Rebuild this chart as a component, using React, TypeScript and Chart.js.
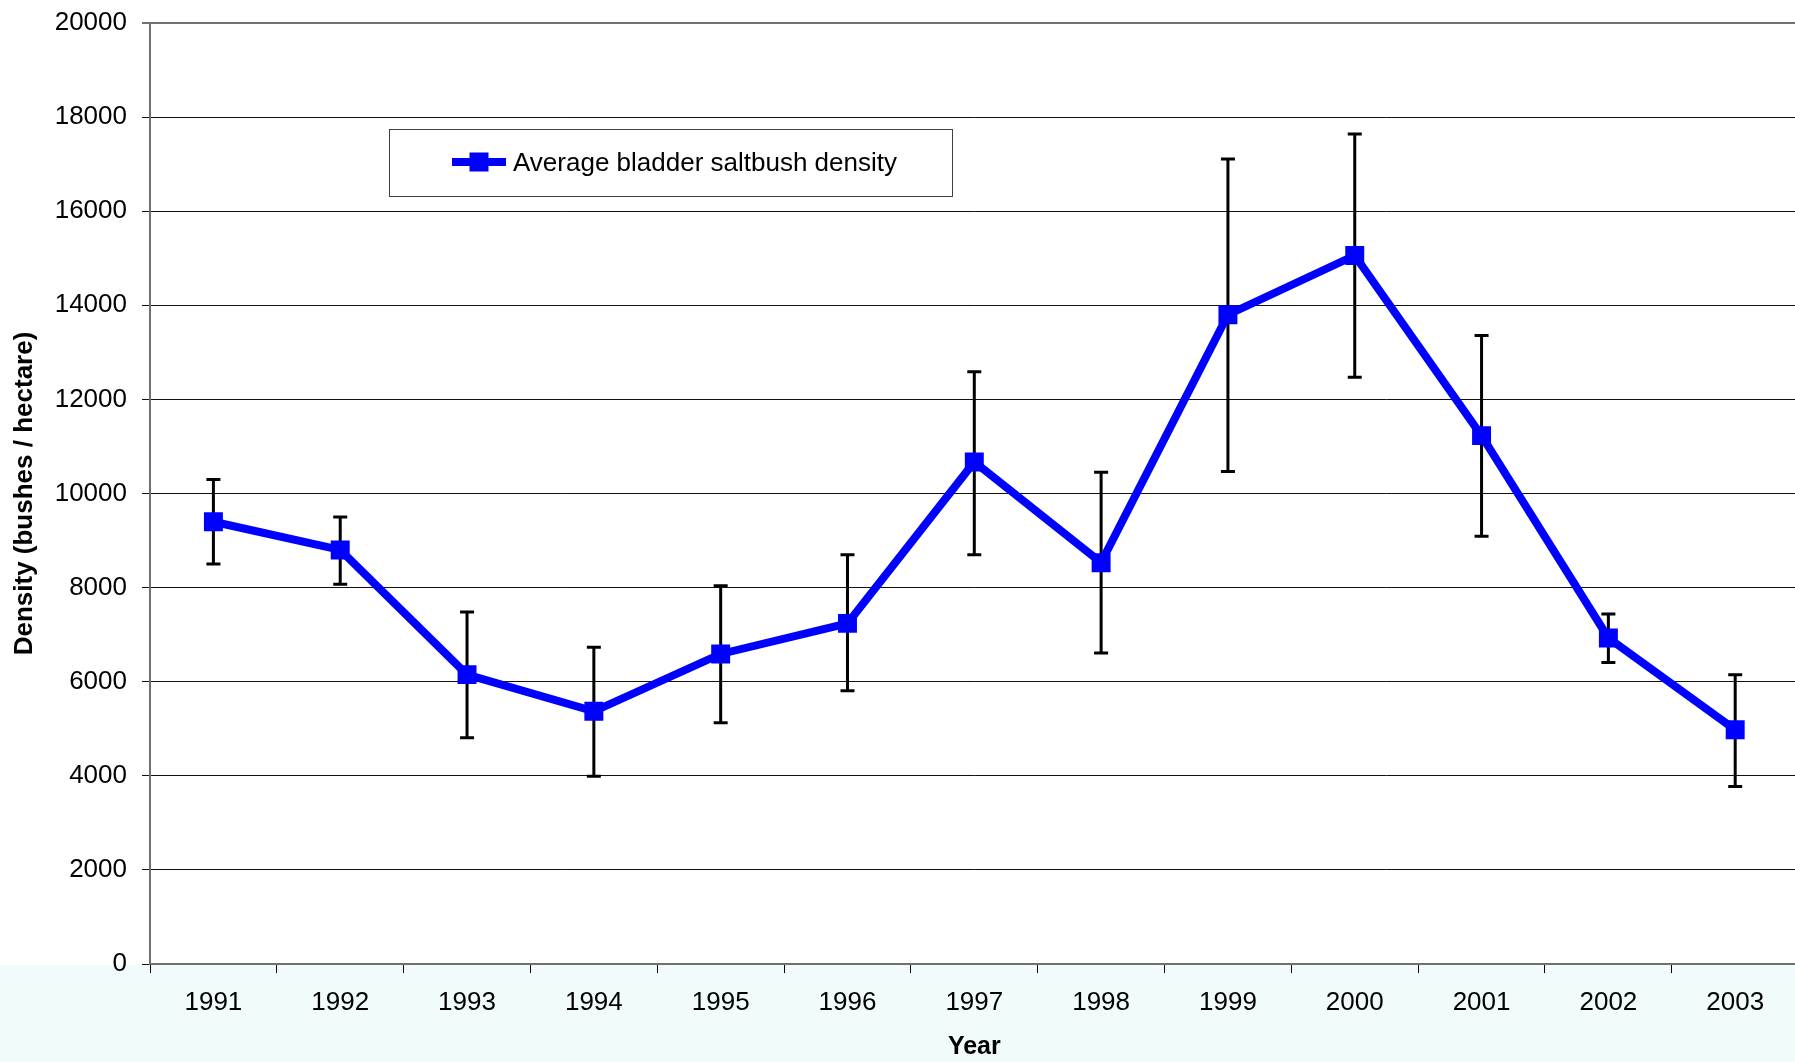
import React, { useEffect, useRef } from "react";
import { Chart, registerables } from "chart.js";

Chart.register(...registerables);

const years = ["1991", "1992", "1993", "1994", "1995", "1996", "1997", "1998", "1999", "2000", "2001", "2002", "2003"];
const density = [9400, 8800, 6150, 5370, 6590, 7240, 10670, 8530, 13800, 15060, 11230, 6930, 4980];
const errorUpper = [10300, 9500, 7480, 6730, 8040, 8700, 12590, 10450, 17110, 17640, 13360, 7440, 6150];
const errorLower = [8500, 8070, 4810, 3990, 5130, 5810, 8700, 6610, 10470, 12470, 9090, 6410, 3770];
const yTicks = [0, 2000, 4000, 6000, 8000, 10000, 12000, 14000, 16000, 18000, 20000];
const seriesLabel = "Average bladder saltbush density";

const FONT = "Arial, 'Liberation Sans', sans-serif";

const bgPlugin = {
  id: "bgPlugin",
  beforeDraw(chart: any) {
    const { ctx, width, height, chartArea } = chart;
    ctx.save();
    ctx.fillStyle = "#ffffff";
    ctx.fillRect(0, 0, width, height);
    ctx.fillStyle = "#f1fbfc";
    ctx.fillRect(0, chartArea.bottom + 1, width, height - chartArea.bottom);
    ctx.restore();
  },
};

const errorBarPlugin = {
  id: "errorBars",
  beforeDatasetsDraw(chart: any) {
    const { ctx, scales } = chart;
    const xs = scales.x;
    const ys = scales.y;
    ctx.save();
    ctx.strokeStyle = "#000000";
    ctx.lineWidth = 3;
    const cap = 7;
    for (let i = 0; i < years.length; i++) {
      const x = xs.getPixelForValue(i);
      const yt = ys.getPixelForValue(errorUpper[i]);
      const yb = ys.getPixelForValue(errorLower[i]);
      ctx.beginPath();
      ctx.moveTo(x, yt);
      ctx.lineTo(x, yb);
      ctx.moveTo(x - cap, yt);
      ctx.lineTo(x + cap, yt);
      ctx.moveTo(x - cap, yb);
      ctx.lineTo(x + cap, yb);
      ctx.stroke();
    }
    ctx.restore();
  },
};

const legendPlugin = {
  id: "boxLegend",
  afterDraw(chart: any) {
    const { ctx } = chart;
    const bx = 389.5, by = 129.5, bw = 563, bh = 67;
    ctx.save();
    ctx.fillStyle = "#ffffff";
    ctx.fillRect(bx, by, bw, bh);
    ctx.strokeStyle = "#404040";
    ctx.lineWidth = 1;
    ctx.strokeRect(bx, by, bw, bh);
    const cy = 162;
    ctx.strokeStyle = "#0000ff";
    ctx.lineWidth = 8;
    ctx.beginPath();
    ctx.moveTo(452, cy);
    ctx.lineTo(506, cy);
    ctx.stroke();
    ctx.fillStyle = "#0000ff";
    ctx.fillRect(479 - 9.5, cy - 9.5, 19, 19);
    ctx.fillStyle = "#000000";
    ctx.font = `26px ${FONT}`;
    ctx.textBaseline = "middle";
    ctx.textAlign = "left";
    ctx.fillText(seriesLabel, 513, cy + 2);
    ctx.restore();
  },
};

export default function App() {
  const ref = useRef<HTMLCanvasElement>(null);
  useEffect(() => {
    if (!ref.current) return;
    const chart = new Chart(ref.current, {
      type: "line",
      data: {
        labels: years,
        datasets: [
          {
            label: seriesLabel,
            data: density,
            borderColor: "#0000ff",
            backgroundColor: "#0000ff",
            borderWidth: 8,
            pointStyle: "rect",
            pointRadius: 13.4,
            pointHoverRadius: 13.4,
            pointBorderWidth: 0,
            pointBackgroundColor: "#0000ff",
            tension: 0,
            fill: false,
          },
        ],
      },
      options: {
        responsive: false,
        animation: false,
        layout: { padding: { top: 23, right: 9, left: 0, bottom: 0 } },
        plugins: {
          legend: { display: false },
          tooltip: { enabled: false },
        },
        scales: {
          x: {
            type: "category",
            offset: true,
            grid: {
              offset: true,
              drawOnChartArea: false,
              drawTicks: true,
              tickLength: 9,
              color: "#000000",
              lineWidth: 1,
            },
            border: { display: true, color: "#707070", width: 2 },
            ticks: {
              color: "#000000",
              font: { family: FONT, size: 26 },
              padding: 14,
              maxRotation: 0,
              autoSkip: false,
            },
            title: {
              display: true,
              text: "Year",
              color: "#000000",
              font: { family: FONT, size: 25, weight: "bold" },
              padding: { top: 0, bottom: 0 },
            },
            afterFit(scale: any) {
              scale.height = 98;
              scale.paddingLeft = 0;
              scale.paddingRight = 0;
            },
          },
          y: {
            min: 0,
            max: 20000,
            afterBuildTicks(scale: any) {
              scale.ticks = yTicks.map((v) => ({ value: v }));
            },
            grid: {
              color: (c: any) => (c.tick && c.tick.value === 20000 ? "#707070" : "#111111"),
              lineWidth: (c: any) => (c.tick && c.tick.value === 20000 ? 2 : 1),
              drawTicks: true,
              tickLength: 8,
            },
            border: { display: true, color: "#707070", width: 2 },
            ticks: {
              color: "#000000",
              font: { family: FONT, size: 26 },
              padding: 15,
              callback: (v: any) => String(v),
            },
            title: {
              display: true,
              text: "Density (bushes / hectare)",
              color: "#000000",
              font: { family: FONT, size: 26, weight: "bold" },
              padding: { top: 9, bottom: 0 },
            },
            afterFit(scale: any) {
              scale.width = 150;
              scale.paddingTop = 0;
              scale.paddingBottom = 0;
            },
          },
        },
      },
      plugins: [bgPlugin, errorBarPlugin, legendPlugin],
    });
    return () => chart.destroy();
  }, []);
  return (
    <div style={{ position: "fixed", left: 0, top: 0, width: 1795, height: 1062, overflow: "hidden", background: "#fff" }}>
      <canvas ref={ref} width={1812} height={1062} style={{ display: "block", width: 1812, height: 1062 }} />
    </div>
  );
}
